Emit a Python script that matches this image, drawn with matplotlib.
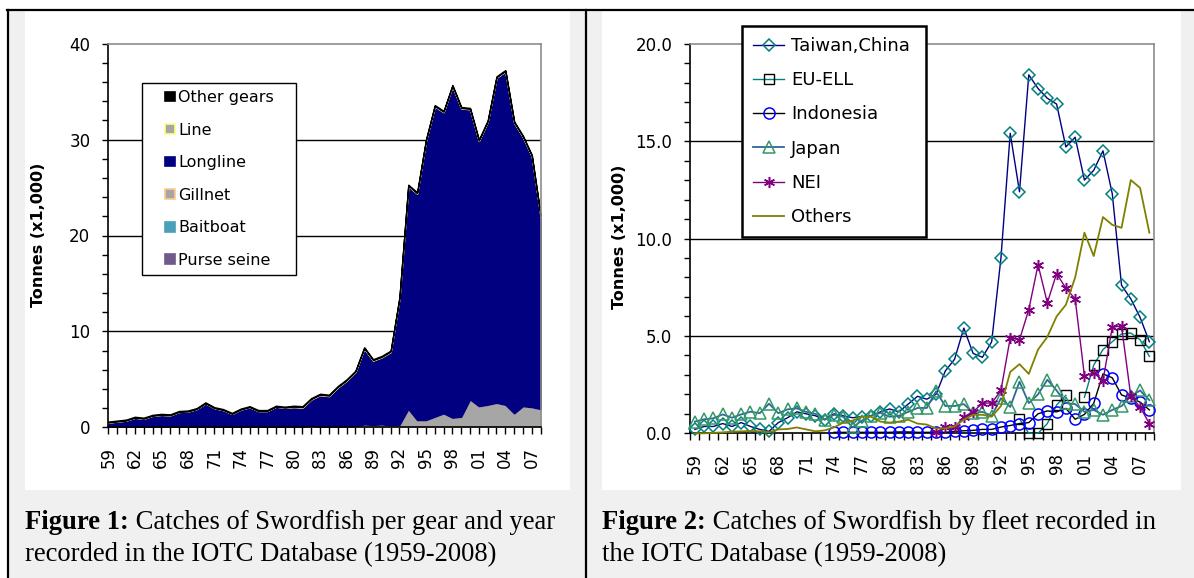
import matplotlib
matplotlib.use("Agg")
import matplotlib.pyplot as plt
import numpy as np
from matplotlib.patches import Rectangle
from matplotlib.lines import Line2D
from matplotlib.legend_handler import HandlerPatch
from matplotlib.ticker import MultipleLocator

nan = np.nan
years = list(range(1959, 2009))

# ---- Figure 1: catches per gear (tonnes x1000), stacked ----
gear_names = ["Purse seine", "Baitboat", "Gillnet", "Longline", "Line", "Other gears"]
purse_seine = [0.0] * 50
baitboat = [0.0] * 50
gillnet = [0.0, 0.0, 0.0, 0.0, 0.0, 0.0, 0.0, 0.0, 0.0, 0.0,
           0.0, 0.0, 0.0, 0.0, 0.0, 0.0, 0.0, 0.0, 0.0, 0.0,
           0.0, 0.05, 0.05, 0.15, 0.05, 0.05, 0.05, 0.1, 0.1, 0.3,
           0.25, 0.3, 0.2, 0.25, 1.9, 0.75, 0.75, 1.1, 1.45, 1.0,
           1.1, 2.9, 2.2, 2.35, 2.55, 2.35, 1.45, 2.2, 2.1, 1.9]
longline = [0.5, 0.6, 0.7, 1.0, 0.9, 1.2, 1.3, 1.25, 1.6, 1.65,
            1.9, 2.5, 2.0, 1.8, 1.4, 1.85, 2.1, 1.7, 1.7, 2.15,
            2.05, 2.05, 2.0, 2.75, 3.3, 3.2, 4.1, 4.75, 5.65, 7.9,
            6.7, 7.0, 7.65, 13.2, 23.25, 23.6, 29.1, 32.35, 31.4, 34.55,
            32.15, 30.25, 27.65, 29.5, 33.9, 34.75, 30.3, 28.05, 26.15, 20.05]
line_gear = [0.0, 0.0, 0.0, 0.0, 0.0, 0.0, 0.0, 0.0, 0.0, 0.0,
             0.0, 0.0, 0.0, 0.0, 0.0, 0.0, 0.0, 0.0, 0.0, 0.0,
             0.0, 0.05, 0.05, 0.05, 0.05, 0.05, 0.05, 0.05, 0.05, 0.05,
             0.05, 0.05, 0.05, 0.05, 0.05, 0.05, 0.05, 0.05, 0.05, 0.05,
             0.05, 0.05, 0.05, 0.05, 0.05, 0.05, 0.05, 0.05, 0.05, 0.05]
other_gears = [0.1] * 50

# ---- Figure 2: catches by fleet (tonnes x1000) ----
taiwan = [0.2, 0.35, 0.35, 0.5, 0.35, 0.55, 0.35, 0.2, 0.1, 0.55,
          0.8, 1.1, 1.0, 0.9, 0.7, 1.0, 0.9, 0.8, 0.85, 0.9,
          1.1, 1.25, 1.1, 1.5, 1.9, 1.75, 2.0, 3.2, 3.8, 5.4,
          4.1, 3.9, 4.7, 9.0, 15.4, 12.4, 18.4, 17.7, 17.2, 16.9,
          14.7, 15.2, 13.0, 13.5, 14.5, 12.3, 7.6, 6.9, 5.95, 4.7]
eu_ell = [nan] * 35 + [0.75, 0.0, 0.0, 0.5, 1.45, 1.95, nan, 1.85, 3.5, 4.3,
                       4.7, 5.1, 5.15, 4.8, 3.95]
indonesia = [nan] * 15 + [0.05, 0.05, 0.05, 0.05, 0.05, 0.05, 0.05, 0.07, 0.07, 0.05,
                          0.05, 0.05, 0.05, 0.1, 0.13, 0.15, 0.2, 0.2, 0.32, 0.4,
                          0.5, 0.55, 1.0, 1.15, 1.1, 1.28, 0.72, 0.97, 1.54, 3.05,
                          2.85, 1.97, 1.8, 1.6, 1.2]
japan = [0.6, 0.72, 0.77, 0.97, 0.8, 0.97, 1.11, 1.03, 1.52, 1.03,
         1.23, 1.28, 1.1, 1.0, 0.7, 0.95, 0.85, 0.3, 0.65, 0.9,
         1.05, 0.85, 0.9, 1.1, 1.3, 1.3, 2.15, 1.4, 1.4, 1.5,
         1.05, 1.1, 0.9, 1.8, 1.35, 2.65, 1.55, 2.0, 2.75, 2.2,
         1.55, 1.5, 1.1, 1.2, 0.95, 1.2, 1.4, 1.9, 2.2, 1.7]
nei = [nan] * 26 + [0.05, 0.3, 0.3, 0.85, 1.1, 1.55, 1.55, 2.2, 4.9, 4.8,
                    6.35, 8.65, 6.7, 8.2, 7.45, 6.9, 2.95, 3.1, 2.7, 5.45,
                    5.5, 1.9, 1.35, 0.5]
others = [0.0, 0.0, 0.02, 0.05, 0.08, 0.1, 0.12, 0.1, 0.05, 0.2,
          0.22, 0.3, 0.2, 0.1, 0.15, 0.3, 0.55, 0.65, 0.85, 0.85,
          0.6, 0.55, 0.6, 0.7, 0.5, 0.45, 0.25, 0.25, 0.35, 0.7,
          0.95, 0.95, 0.85, 1.4, 3.15, 3.55, 3.05, 4.3, 4.95, 6.0,
          6.6, 8.0, 10.3, 9.1, 11.1, 10.7, 10.55, 13.0, 12.6, 10.3]

W, H = 1194, 578
DPI = 100


def fx(px):
    return px / W


def fy(py):
    return 1 - py / H


fig = plt.figure(figsize=(W / DPI, H / DPI), dpi=DPI, facecolor="white")

# table-like background, white panels and black borders
fig.add_artist(Rectangle((fx(7), 0), 1 - fx(7), fy(10), transform=fig.transFigure,
                         facecolor="#f0f0f0", edgecolor="none", zorder=-10))
for x0, x1 in [(25, 570), (602, 1181)]:
    fig.add_artist(Rectangle((fx(x0), fy(490)), fx(x1 - x0), (490 - 11) / H,
                             transform=fig.transFigure, facecolor="white",
                             edgecolor="none", zorder=-9))
fig.add_artist(Line2D([fx(7), 1], [fy(10), fy(10)], color="black", lw=1.6,
                      transform=fig.transFigure))
for xv in [7.5, 586]:
    fig.add_artist(Line2D([fx(xv), fx(xv)], [0, fy(10)], color="black", lw=1.6,
                          transform=fig.transFigure))

tick_font = 12
label_years = [y for y in years if (y - 1959) % 3 == 0]


def style_axes(ax, ymax, major, minor):
    ax.set_facecolor("white")
    ax.set_ylim(0, ymax)
    ax.yaxis.set_major_locator(MultipleLocator(major))
    ax.yaxis.set_minor_locator(MultipleLocator(minor))
    for yv in np.arange(major, ymax, major):
        ax.axhline(yv, color="black", lw=1.0, zorder=0.5)
    ax.spines["left"].set_color("black")
    ax.spines["bottom"].set_color("black")
    ax.spines["top"].set_color("#8c8c8c")
    ax.spines["right"].set_color("#8c8c8c")
    for s in ax.spines.values():
        s.set_linewidth(1.2)
    ax.tick_params(axis="y", which="both", direction="out", length=4, width=1,
                   labelsize=tick_font, pad=9)
    ax.tick_params(axis="x", which="both", direction="out", width=1)


# ---------------- left chart ----------------
ax1 = fig.add_axes([fx(108.4), fy(427.3), 432.2 / W, 383.6 / H])
gear_colors = ["#6f5a8a", "#4aa0b8", "#a6a6a6", "#000080", "#a6a6a6", "#000000"]
gear_edges = ["#6f5a8a", "#4aa0b8", "#ffc890", "#000080", "#ffff80", "#000000"]
polys = ax1.stackplot(years, purse_seine, baitboat, gillnet, longline, line_gear,
                      other_gears, colors=gear_colors, zorder=2)
for p, ec in zip(polys, gear_edges):
    p.set_edgecolor(ec)
    p.set_linewidth(1.0)
ax1.set_xlim(1959, 2008)
style_axes(ax1, 40, 10, 2)
ax1.set_xticks(years)
ax1.set_xticklabels([f"{y % 100:02d}" if y in label_years else "" for y in years],
                    rotation=90, fontsize=tick_font)
ax1.tick_params(axis="x", length=5, pad=9)
ax1.yaxis.set_major_formatter(lambda v, pos: f"{v:.0f}")


def square_patch(legend, orig_handle, xdescent, ydescent, width, height, fontsize):
    side = 7.0
    return Rectangle((-xdescent + width - side - 1.0, -ydescent + (height - side) / 2),
                     side, side)


gear_handles = [Rectangle((0, 0), 1, 1, facecolor=fc, edgecolor=ec, lw=1.2)
                for fc, ec in zip(gear_colors, gear_edges)]
leg1_w = (296 - 142) / 432.2
leg1 = ax1.legend(gear_handles[::-1], gear_names[::-1], loc="upper left",
                  bbox_to_anchor=(0.0777, 0.0, leg1_w, 0.898), mode="expand",
                  borderaxespad=0, fontsize=11.5,
                  handlelength=1.7, handleheight=0.8, handletextpad=0.1,
                  labelspacing=1.1, borderpad=0.45, fancybox=False, framealpha=1,
                  edgecolor="black", handler_map={Rectangle: HandlerPatch(patch_func=square_patch)})
leg1.get_frame().set_linewidth(1.0)

# ---------------- right chart ----------------
ax2 = fig.add_axes([fx(690.2), fy(433.3), 463.8 / W, 389.6 / H])
fleets = [
    ("Taiwan,China", taiwan, dict(color="#000080", lw=1.0, marker="D", ms=6, mec="#008080", mew=1.1)),
    ("EU-ELL", eu_ell, dict(color="#008080", lw=1.0, marker="s", ms=7.5, mec="black", mew=1.0)),
    ("Indonesia", indonesia, dict(color="black", lw=1.0, marker="o", ms=8, mec="#0000ff", mew=1.1)),
    ("Japan", japan, dict(color="#336699", lw=1.3, marker="^", ms=8, mec="#339966", mew=1.1)),
    ("NEI", nei, dict(color="#800080", lw=1.0, marker=(6, 2, 0), ms=8, mec="#800080", mew=1.1)),
    ("Others", others, dict(color="#808000", lw=1.3)),
]
fleet_x = np.array(years)
for name, vals, kw in fleets:
    ax2.plot(fleet_x, vals, label=name, mfc="none", clip_on=False, zorder=3, **kw)
ax2.set_xlim(1958.5, 2008.5)
style_axes(ax2, 20, 5, 1)
ax2.set_xticks(np.arange(1958.5, 2009.5, 1))
ax2.set_xticklabels([])
ax2.set_xticks(label_years, minor=True)
ax2.set_xticklabels([f"{y % 100:02d}" for y in label_years], minor=True,
                    rotation=90, fontsize=tick_font)
ax2.tick_params(axis="x", which="major", length=5)
ax2.tick_params(axis="x", which="minor", length=0, pad=14)
ax2.yaxis.set_major_formatter(lambda v, pos: f"{v:.1f}")
leg2_w = (926 - 742) / 463.8
leg2 = ax2.legend(loc="upper left", bbox_to_anchor=(0.1117, 0.0, leg2_w, 1.0454),
                  mode="expand", borderaxespad=0,
                  fontsize=13, handlelength=1.75, handletextpad=0.35,
                  labelspacing=0.9, borderpad=0.6, fancybox=False, framealpha=1,
                  edgecolor="black")
leg2.get_frame().set_linewidth(1.8)

# axis titles
for xc, yc in [(39, 235), (620, 237)]:
    fig.text(fx(xc), fy(yc), "Tonnes (x1,000)", rotation=90, ha="center", va="center",
             fontsize=11.5, fontweight="bold")

# captions
renderer = fig.canvas.get_renderer()
cap_size = 19.2
cap_font = "Liberation Serif"


def caption(x_px, y_px, bold, rest):
    t = fig.text(fx(x_px), fy(y_px), bold, family=cap_font, fontweight="bold",
                 fontsize=cap_size, va="baseline")
    x_end = t.get_window_extent(renderer).x1
    fig.text(x_end / W, fy(y_px), " " + rest, family=cap_font, fontsize=cap_size,
             va="baseline")


caption(25, 529, "Figure 1:", "Catches of Swordfish per gear and year")
fig.text(fx(25), fy(561), "recorded in the IOTC Database (1959-2008)", family=cap_font,
         fontsize=cap_size, va="baseline")
caption(602, 529, "Figure 2:", "Catches of Swordfish by fleet recorded in")
fig.text(fx(602), fy(561), "the IOTC Database (1959-2008)", family=cap_font,
         fontsize=cap_size, va="baseline")

fig.savefig("out.png", dpi=DPI, facecolor=fig.get_facecolor())
